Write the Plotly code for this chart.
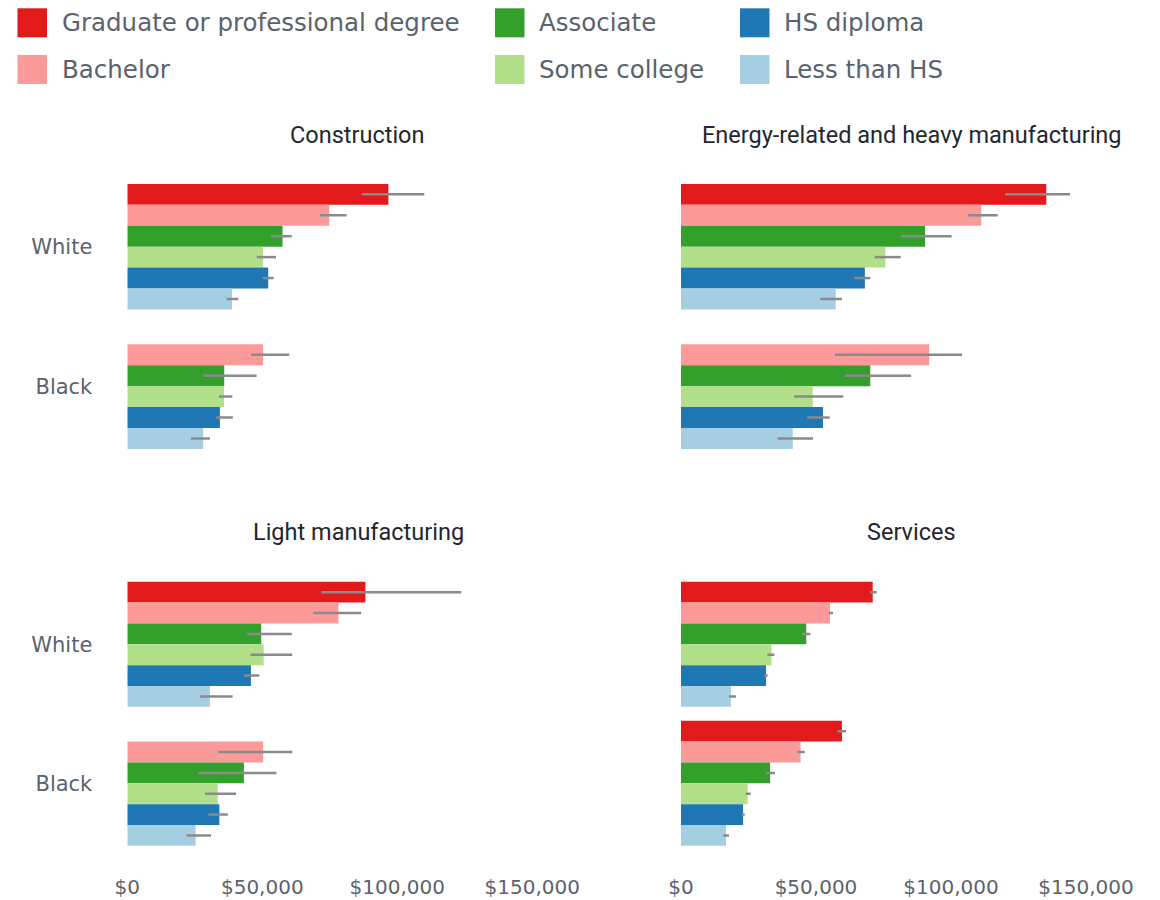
import plotly.graph_objects as go

EDUCATION = ["Graduate or professional degree", "Bachelor", "Associate",
             "Some college", "HS diploma", "Less than HS"]
COLORS = ["#e31a1c", "#fb9a99", "#33a02c", "#b2df8a", "#1f78b4", "#a6cee3"]
RACES = ["White", "Black"]
PANELS = ["Construction", "Energy-related and heavy manufacturing",
          "Light manufacturing", "Services"]
X_TICKS = [0, 50000, 100000, 150000]
X_TICK_LABELS = ["$0", "$50,000", "$100,000", "$150,000"]

# Construction
construction_white = [96700, 74800, 57500, 50300, 52200, 38800]
construction_white_lo = [86800, 71400, 53200, 47900, 50100, 36700]
construction_white_hi = [110000, 81200, 60900, 55100, 54200, 41100]
construction_black = [None, 50300, 35900, 35800, 34300, 28100]
construction_black_lo = [None, 45900, 28100, 34000, 32900, 23600]
construction_black_hi = [None, 60000, 47900, 38900, 39100, 30600]

# Energy-related and heavy manufacturing
energy_white = [135300, 111200, 90400, 75700, 68100, 57300]
energy_white_lo = [120100, 106200, 81400, 71700, 64200, 51600]
energy_white_hi = [144100, 117300, 100200, 81400, 70100, 59600]
energy_black = [None, 91900, 70100, 48800, 52600, 41400]
energy_black_lo = [None, 57000, 60700, 41900, 46700, 35800]
energy_black_hi = [None, 104100, 85200, 60100, 55100, 48900]

# Light manufacturing
light_white = [88200, 78200, 49600, 50500, 45800, 30600]
light_white_lo = [71900, 68900, 44400, 45600, 43300, 27000]
light_white_hi = [123700, 86600, 60900, 61100, 48900, 39000]
light_black = [None, 50300, 43200, 33500, 34100, 25300]
light_black_lo = [None, 33600, 26200, 28800, 30000, 21900]
light_black_hi = [None, 61100, 55200, 40300, 37200, 31000]

# Services
services_white = [71000, 55200, 46400, 33500, 31500, 18500]
services_white_lo = [70000, 54800, 44800, 32000, 30900, 17800]
services_white_hi = [72500, 56300, 47900, 34600, 32100, 20400]
services_black = [59600, 44300, 33000, 24700, 23000, 16700]
services_black_lo = [58000, 43100, 31400, 24000, 22500, 15700]
services_black_hi = [61100, 45900, 34800, 25800, 23600, 17800]

panel_data = [
    (construction_white, construction_white_lo, construction_white_hi,
     construction_black, construction_black_lo, construction_black_hi),
    (energy_white, energy_white_lo, energy_white_hi,
     energy_black, energy_black_lo, energy_black_hi),
    (light_white, light_white_lo, light_white_hi,
     light_black, light_black_lo, light_black_hi),
    (services_white, services_white_lo, services_white_hi,
     services_black, services_black_lo, services_black_hi),
]

# page offset of the plot div (body margin)
OFF = 8
W, H = 1152, 892


def px(x):
    return (x - OFF) / W


def py(y):
    return 1 - (y - OFF) / H


TICK_FONT = "DejaVu Sans, Verdana, sans-serif"
TITLE_FONT = "Roboto, Arial, sans-serif"
GRAY_TEXT = "#5b626d"

x_doms = [[px(127.3), px(586.3)], [px(681), px(1140)]]
y_doms = [[py(455.9), py(176.9)], [py(852.8), py(574.8)]]

fig = go.Figure()

for p, (wv, wlo, whi, bv, blo, bhi) in enumerate(panel_data):
    axn = "" if p == 0 else str(p + 1)
    for i, edu in enumerate(EDUCATION):
        vals = [wv[i], bv[i]]
        plus = [None if wv[i] is None else whi[i] - wv[i],
                None if bv[i] is None else bhi[i] - bv[i]]
        minus = [None if wv[i] is None else wv[i] - wlo[i],
                 None if bv[i] is None else bv[i] - blo[i]]
        fig.add_trace(go.Bar(
            x=vals, y=RACES, orientation="h", name=edu,
            marker=dict(color=COLORS[i], line=dict(width=0)),
            error_x=dict(type="data", symmetric=False, array=plus,
                         arrayminus=minus, width=0, thickness=2.5,
                         color="#8a8a8a"),
            xaxis="x" + axn, yaxis="y" + axn, showlegend=False,
            hoverinfo="x+name",
        ))

layout = dict(
    width=W, height=H, margin=dict(l=0, r=0, t=0, b=0, autoexpand=False),
    paper_bgcolor="white", plot_bgcolor="white",
    barmode="group", bargap=0.1, bargroupgap=0,
    font=dict(family=TICK_FONT, color=GRAY_TEXT, size=20),
    showlegend=False,
)
for p in range(4):
    axn = "" if p == 0 else str(p + 1)
    col = p % 2
    row = p // 2
    layout["xaxis" + axn] = dict(
        domain=x_doms[col], range=[0, 170000], anchor="y" + axn,
        tickvals=X_TICKS, ticktext=X_TICK_LABELS,
        showticklabels=(row == 1), showgrid=False, zeroline=False,
        showline=False, ticks="", ticklabelstandoff=20, automargin=False,
        tickfont=dict(size=20, color=GRAY_TEXT, family=TICK_FONT),
        fixedrange=True,
    )
    layout["yaxis" + axn] = dict(
        domain=y_doms[row], anchor="x" + axn, autorange="reversed",
        type="category", showgrid=False, zeroline=False, showline=False,
        ticks="", showticklabels=(col == 0), ticklabelstandoff=34,
        automargin=False,
        tickfont=dict(size=21, color=GRAY_TEXT, family=TICK_FONT),
        fixedrange=True,
    )
fig.update_layout(**layout)

# Panel titles
title_pos = [(357.8, 134.5), (911.5, 134.5), (358, 532), (911.5, 532)]
for (tx, ty), t in zip(title_pos, PANELS):
    fig.add_annotation(x=px(tx), y=py(ty), xref="paper", yref="paper",
                       text=t, showarrow=False, xanchor="center",
                       yanchor="middle",
                       font=dict(size=23.5, color="#22272f",
                                 family=TITLE_FONT))

# Manual legend (3 columns x 2 rows)
legend_cols = [17.5, 495, 740]
legend_rows = [22.8, 69.5]
for i, edu in enumerate(EDUCATION):
    c, r = i // 2, i % 2
    x0 = legend_cols[c]
    yc = legend_rows[r]
    fig.add_shape(type="rect", xref="paper", yref="paper",
                  x0=px(x0), x1=px(x0 + 29.5),
                  y0=py(yc + 14.5), y1=py(yc - 14.5),
                  fillcolor=COLORS[i], line=dict(width=0))
    fig.add_annotation(x=px(x0 + 42), y=py(yc), xref="paper",
                       yref="paper", text=edu, showarrow=False,
                       xanchor="left", yanchor="middle",
                       font=dict(size=24.5, color=GRAY_TEXT,
                                 family=TICK_FONT))

fig.write_html("out.html")
